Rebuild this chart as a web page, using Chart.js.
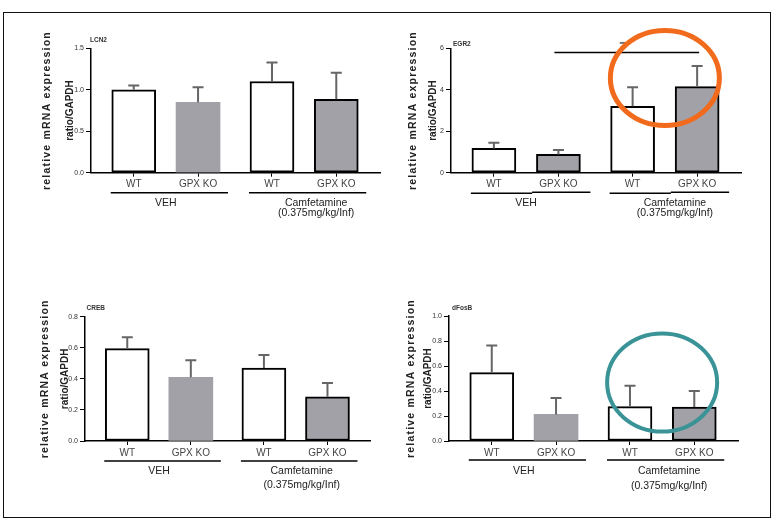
<!DOCTYPE html>
<html>
<head>
<meta charset="utf-8">
<script src="https://cdn.jsdelivr.net/npm/chart.js@4.4.1/dist/chart.umd.min.js"></script>
<style>
  html, body { margin: 0; padding: 0; background: #fff; }
  #page { position: relative; width: 776px; height: 520px; overflow: hidden; }
  #page canvas { position: absolute; left: 0; top: 0; }
  #frame { position: absolute; left: 3px; top: 12px; width: 768px; height: 506px; border: 1.5px solid #111; box-sizing: border-box; }
</style>
</head>
<body>
<div id="page">
  <div id="frame"></div>
  <canvas id="lcn2" width="776" height="520"></canvas>
  <canvas id="egr2" width="776" height="520"></canvas>
  <canvas id="creb" width="776" height="520"></canvas>
  <canvas id="dfosb" width="776" height="520"></canvas>
</div>
<script>
// data (mean and upper error = SEM)
const categories = ['WT', 'GPX KO', 'WT', 'GPX KO'];
const groupLabels = [['VEH'], ['Camfetamine', '(0.375mg/kg/Inf)']];
const yTitle = ['relative mRNA expression', 'ratio/GAPDH'];

const lcn2Mean = [1.00, 0.85, 1.10, 0.885];
const lcn2Sem = [0.05, 0.18, 0.23, 0.32];
const lcn2Ticks = [0, 0.5, 1.0, 1.5];

const egr2Mean = [1.17, 0.88, 3.2, 4.15];
const egr2Sem = [0.28, 0.21, 0.92, 1.0];
const egr2Ticks = [0, 2, 4, 6];
const egr2Bracket = 5.8;

const crebMean = [0.595, 0.41, 0.47, 0.285];
const crebSem = [0.072, 0.11, 0.083, 0.088];
const crebTicks = [0, 0.2, 0.4, 0.6, 0.8];

const dfosbMean = [0.547, 0.213, 0.275, 0.272];
const dfosbSem = [0.218, 0.131, 0.168, 0.128];
const dfosbTicks = [0, 0.2, 0.4, 0.6, 0.8, 1.0];

const FONT = '"Liberation Sans", Arial, sans-serif';
const GREY = '#a2a1a7';
const fills = ['#ffffff', GREY, '#ffffff', GREY];
const GROUP_GAP = 0.15;
const xPos = categories.map((c, i) => i + (i >= 2 ? GROUP_GAP : 0));

Chart.defaults.font.family = FONT;

function ellipse(ctx, x, y, rx, ry, color, w) {
  ctx.save();
  ctx.strokeStyle = color;
  ctx.lineWidth = w;
  ctx.beginPath();
  ctx.ellipse(x, y, rx, ry, 0, 0, Math.PI * 2);
  ctx.stroke();
  ctx.restore();
}

const panels = [
  { id: 'lcn2', name: 'LCN2', mean: lcn2Mean, sem: lcn2Sem, ticks: lcn2Ticks, dec: 1,
    outlined: [true, false, true, true],
    box: { left: 91, right: 380, top: 48.3, bottom: 172.7 },
    title: { x: 47.5, gap: 23 }, nameAt: { dx: -1, dy: -8.5 },
    grp: { line: 20, t1: 30.5, t2: 40.5, camfShift: 12, split: false } },
  { id: 'egr2', name: 'EGR2', mean: egr2Mean, sem: egr2Sem, ticks: egr2Ticks, dec: 0,
    outlined: [true, true, true, true],
    box: { left: 451, right: 741, top: 48.3, bottom: 172.7 },
    title: { x: 413.5, gap: 19.5 }, nameAt: { dx: 2, dy: -4 },
    grp: { line: 19.5, t1: 30.5, t2: 40.8, camfShift: 10, split: true },
    extra(ctx, xs, ys, c) {
      const yb = ys.getPixelForValue(egr2Bracket);
      ctx.strokeStyle = '#000'; ctx.lineWidth = 1.5;
      ctx.beginPath(); ctx.moveTo(c[1] - 4, yb); ctx.lineTo(c[3] + 2, yb); ctx.stroke();
      const ym = ys.getPixelForValue(6.26);
      ctx.strokeStyle = '#777'; ctx.lineWidth = 2;
      ctx.beginPath(); ctx.moveTo((c[1] + c[3]) / 2 - 8, ym); ctx.lineTo((c[1] + c[3]) / 2 - 2, ym); ctx.stroke();
      ellipse(ctx, xs.getPixelForValue((xPos[2] + xPos[3]) / 2), ys.getPixelForValue(4.57), 54.5, 47.5, '#f26a1b', 5);
    } },
  { id: 'creb', name: 'CREB', mean: crebMean, sem: crebSem, ticks: crebTicks, dec: 1,
    outlined: [true, false, true, true],
    box: { left: 85, right: 370.7, top: 316.7, bottom: 441 },
    title: { x: 45.5, gap: 19.5 }, nameAt: { dx: 1.5, dy: -8.5 },
    grp: { line: 20, t1: 30.5, t2: 44.5, camfShift: 6, split: false } },
  { id: 'dfosb', name: 'dFosB', mean: dfosbMean, sem: dfosbSem, ticks: dfosbTicks, dec: 1,
    outlined: [true, false, true, true],
    box: { left: 449, right: 738, top: 316, bottom: 441 },
    title: { x: 411.3, gap: 16.5 }, nameAt: { dx: 3, dy: -8 },
    grp: { line: 19, t1: 30, t2: 45, camfShift: 7, split: false },
    extra(ctx, xs, ys) {
      ellipse(ctx, xs.getPixelForValue((xPos[2] + xPos[3]) / 2), ys.getPixelForValue(0.468), 55, 49, '#3a9396', 4);
    } }
];

function makePanel(p) {
  const yW = 60, xH = 30;
  const data = p.mean.map((v, i) => ({ x: xPos[i], y: v }));

  const annot = {
    id: 'annot_' + p.id,
    afterDatasetsDraw(chart) {
      const ctx = chart.ctx, ys = chart.scales.y;
      ctx.save();
      ctx.strokeStyle = '#666';
      ctx.lineWidth = 2;
      chart.getDatasetMeta(0).data.forEach((bar, i) => {
        const yTop = ys.getPixelForValue(p.mean[i] + p.sem[i]);
        ctx.beginPath();
        ctx.moveTo(bar.x, bar.y);
        ctx.lineTo(bar.x, yTop);
        ctx.moveTo(bar.x - 5.5, yTop);
        ctx.lineTo(bar.x + 5.5, yTop);
        ctx.stroke();
      });
      ctx.restore();
    },
    afterDraw(chart) {
      const ctx = chart.ctx, xs = chart.scales.x, ys = chart.scales.y, area = chart.chartArea;
      const c = xPos.map(v => xs.getPixelForValue(v));
      ctx.save();
      ctx.fillStyle = '#333';
      ctx.font = 'bold 6.5px ' + FONT;
      ctx.textAlign = 'left';
      ctx.textBaseline = 'middle';
      ctx.fillText(p.name, area.left + p.nameAt.dx, area.top + p.nameAt.dy);

      // y-axis title, two rotated lines
      const yc = (area.top + area.bottom) / 2;
      ctx.fillStyle = '#222';
      ctx.textAlign = 'center';
      [0, 1].forEach(k => {
        ctx.save();
        ctx.translate(p.title.x + k * p.title.gap, yc);
        ctx.rotate(-Math.PI / 2);
        ctx.font = (k ? 'bold 10px ' : 'bold 10.5px ') + FONT;
        if ('letterSpacing' in ctx) ctx.letterSpacing = k ? '0px' : '1.2px';
        ctx.fillText(yTitle[k], 0, 0);
        ctx.restore();
      });

      const yLine = area.bottom + p.grp.line;
      [[0, 1], [2, 3]].forEach(([a, b], g) => {
        ctx.strokeStyle = '#000';
        ctx.lineWidth = 1.5;
        ctx.beginPath();
        if (p.grp.split) {
          const m = (c[a] + c[b]) / 2 + 6;
          ctx.moveTo(c[a] - 23, yLine + 1); ctx.lineTo(m, yLine + 1);
          ctx.moveTo(m, yLine); ctx.lineTo(c[b] + 32, yLine);
        } else {
          ctx.moveTo(c[a] - 23, yLine); ctx.lineTo(c[b] + 30, yLine);
        }
        ctx.stroke();
        const tx = (c[a] + c[b]) / 2 + (g ? p.grp.camfShift : 0);
        ctx.fillStyle = '#222';
        ctx.font = '10.5px ' + FONT;
        ctx.textAlign = 'center';
        groupLabels[g].forEach((s, k) => ctx.fillText(s, tx, area.bottom + (k ? p.grp.t2 : p.grp.t1)));
      });
      if (p.extra) p.extra(ctx, xs, ys, c);
      ctx.restore();
    }
  };

  return new Chart(document.getElementById(p.id), {
    type: 'bar',
    data: {
      datasets: [{
        data: data,
        backgroundColor: fills,
        borderColor: p.outlined.map(o => o ? '#000' : 'rgba(0,0,0,0)'),
        borderWidth: p.outlined.map(o => o ? 2 : 0),
        borderSkipped: false,
        barThickness: 44
      }]
    },
    options: {
      responsive: false,
      animation: false,
      events: [],
      layout: { padding: { left: p.box.left - yW, right: 776 - p.box.right, top: p.box.top, bottom: 520 - p.box.bottom - xH } },
      plugins: { legend: { display: false }, tooltip: { enabled: false } },
      scales: {
        x: {
          type: 'linear', min: -0.665, max: 3.83, offset: false,
          afterFit: s => { s.height = xH; },
          afterBuildTicks: s => { s.ticks = xPos.map(v => ({ value: v })); },
          ticks: { autoSkip: false, maxRotation: 0, padding: 2, color: '#444', font: { size: 10 },
                   callback: (v, i) => categories[i] },
          grid: { offset: false, drawOnChartArea: false, drawTicks: true, tickLength: 4, color: '#000', lineWidth: 1 },
          border: { display: true, color: '#000', width: 1.5 }
        },
        y: {
          min: 0, max: p.ticks[p.ticks.length - 1],
          afterFit: s => { s.width = yW; },
          afterBuildTicks: s => { s.ticks = p.ticks.map(v => ({ value: v })); },
          ticks: { padding: 2, color: '#333', font: { size: 7 }, callback: v => v.toFixed(p.dec) },
          grid: { drawOnChartArea: false, drawTicks: true, tickLength: 5, color: '#000', lineWidth: 1 },
          border: { display: true, color: '#000', width: 1.5 }
        }
      }
    },
    plugins: [annot]
  });
}

panels.forEach(makePanel);
</script>
</body>
</html>
